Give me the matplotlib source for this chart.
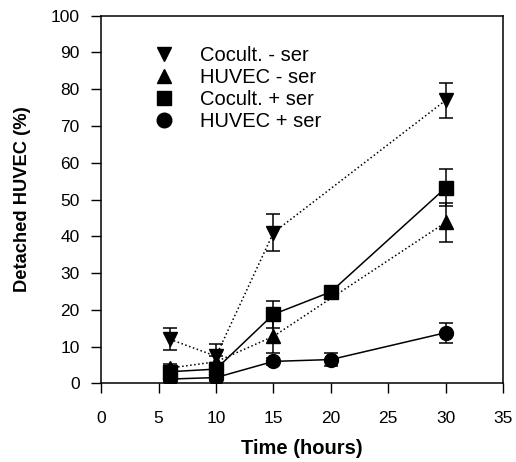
import matplotlib
matplotlib.use("Agg")
import matplotlib.pyplot as plt
from matplotlib.lines import Line2D

plt.rcParams['font.family'] = ['Liberation Sans', 'DejaVu Sans']

# Cocult. - ser
t_cm = [6, 10, 15, 30]
y_cm = [12, 7.4, 41, 77]
e_cm = [3, 3.2, 5, 4.7]

# HUVEC - ser
t_hm = [6, 10, 15, 30]
y_hm = [4.2, 5.9, 12.8, 43.8]
e_hm = [1.2, 1.5, 4.4, 5.3]

# Cocult. + ser
t_cp = [6, 10, 15, 20, 30]
y_cp = [3.2, 3.9, 18.8, 24.9, 53.2]
e_cp = [1, 1.5, 3.7, 1, 5]

# HUVEC + ser
t_hp = [6, 10, 15, 20, 30]
y_hp = [1.2, 1.6, 6, 6.5, 13.8]
e_hp = [0.8, 1, 1, 1.8, 2.7]

fig = plt.figure(figsize=(5.16, 4.62), dpi=100)
ax = fig.add_axes([0.196, 0.170, 0.779, 0.796])

series = [
    (t_cm, y_cm, e_cm, 'v', ':', 'Cocult. - ser'),
    (t_hm, y_hm, e_hm, '^', ':', 'HUVEC - ser'),
    (t_cp, y_cp, e_cp, 's', '-', 'Cocult. + ser'),
    (t_hp, y_hp, e_hp, 'o', '-', 'HUVEC + ser'),
]
handles = []
for t, y, e, m, ls, lab in series:
    ax.errorbar(t, y, yerr=e, fmt=m, linestyle=ls, color='black', lw=1.1,
                markersize=10, ecolor='black', elinewidth=1.1, capsize=5,
                capthick=1.1)
    handles.append(Line2D([], [], marker=m, color='black', linestyle='none',
                          markersize=10.5, label=lab))

ax.set_xlim(0, 35)
ax.set_ylim(0, 100)
ax.set_xticks(range(0, 36, 5))
ax.set_yticks(range(0, 101, 10))
ax.tick_params(direction='out', length=7.5, width=1, labelsize=12.5)
ax.tick_params(axis='x', pad=12)
ax.tick_params(axis='y', pad=8)
for s in ax.spines.values():
    s.set_linewidth(1.1)

ax.set_xlabel('Time (hours)', fontsize=14.5, fontweight='bold', labelpad=10)
ax.set_ylabel('Detached HUVEC (%)', fontsize=13.2, fontweight='bold', labelpad=14)

ax.legend(handles=handles, loc='upper left', bbox_to_anchor=(0.10, 0.94),
          frameon=False, fontsize=14.5, handletextpad=1.0, labelspacing=0.15,
          borderaxespad=0, handlelength=1.5)

fig.savefig('out.png', dpi=100)
